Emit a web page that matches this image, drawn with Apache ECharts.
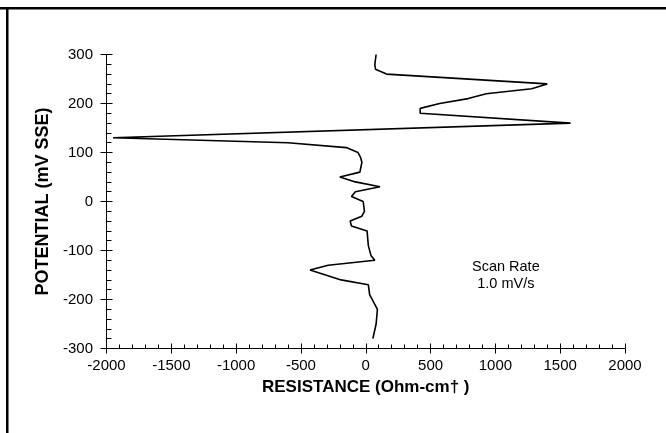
<!DOCTYPE html>
<html>
<head>
<meta charset="utf-8">
<script src="https://cdn.jsdelivr.net/npm/echarts@6/dist/echarts.min.js"></script>
<style>
html,body{margin:0;padding:0;background:#fff;}
#c{width:666px;height:433px;}
</style>
</head>
<body>
<div id="c"></div>
<script>
// Resistance (Ohm-cm) vs potential (mV SSE), in scan order
const resistance = [80, 70, 75, 160, 1400, 1280, 930, 790, 570, 420, 420, 1580, -1950, -600, -150, -60, -40, -30, -45, -200, -80, 110, -80, -110, -20, -10, -30, -120, -110, 10, 20, 40, 70, -290, -430, -190, 20, 30, 90, 80, 55];
const potential  = [300, 280, 270, 260, 240, 230, 220, 210, 200, 190, 180, 160, 130, 120, 110, 100, 90, 80, 60, 50, 40, 30, 20, 10, 0, -20, -30, -40, -50, -60, -90, -110, -120, -130, -140, -160, -170, -190, -220, -250, -280];
const xTicks = [-2000, 2000, 500];
const yTicks = [-300, 300, 100];
const xName = 'RESISTANCE (Ohm-cm\u2020 )';
const yName = 'POTENTIAL (mV SSE)';
const note = 'Scan Rate\n1.0 mV/s';

const points = resistance.map((r, i) => [r, potential[i]]);
const font = '"Liberation Sans", Arial, Helvetica, sans-serif';
const chart = echarts.init(document.getElementById('c'));

const grid = {left: 106.5, right: 41, top: 54.5, bottom: 84.5};
const baseX = {type: 'value', min: xTicks[0], max: xTicks[1], interval: xTicks[2], splitLine: {show: false}};
const baseY = {type: 'value', min: yTicks[0], max: yTicks[1], interval: yTicks[2], splitLine: {show: false}};
const plain = v => String(v);

chart.setOption({
  animation: false,
  backgroundColor: '#fff',
  grid: grid,
  xAxis: [
    Object.assign({}, baseX, {
      position: 'bottom',
      axisLine: {show: true, onZero: false, lineStyle: {color: '#000', width: 1}},
      axisTick: {show: true, inside: true, length: 5, lineStyle: {color: '#000', width: 1}},
      minorTick: {show: true, splitNumber: 5, length: 4, lineStyle: {color: '#000', width: 1}},
      axisLabel: {color: '#000', fontSize: 15, fontFamily: font, margin: 10, formatter: plain},
      name: xName, nameLocation: 'middle', nameGap: 27,
      nameTextStyle: {color: '#000', fontSize: 17, fontWeight: 'bold', fontFamily: font}
    }),
    Object.assign({}, baseX, {
      position: 'bottom',
      axisLine: {show: false, onZero: false},
      axisTick: {show: true, inside: false, length: 5, lineStyle: {color: '#000', width: 1}},
      axisLabel: {show: false}
    })
  ],
  yAxis: [
    Object.assign({}, baseY, {
      position: 'left',
      axisLine: {show: true, onZero: false, lineStyle: {color: '#000', width: 1}},
      axisTick: {show: true, inside: true, length: 6, lineStyle: {color: '#000', width: 1}},
      minorTick: {show: true, splitNumber: 5, length: 5, lineStyle: {color: '#000', width: 1}},
      axisLabel: {color: '#000', fontSize: 15, fontFamily: font, margin: 13.5, formatter: plain},
      name: yName, nameLocation: 'middle', nameGap: 54,
      nameTextStyle: {color: '#000', fontSize: 18, fontWeight: 'bold', fontFamily: font}
    }),
    Object.assign({}, baseY, {
      position: 'left',
      axisLine: {show: false, onZero: false},
      axisTick: {show: true, inside: false, length: 6, lineStyle: {color: '#000', width: 1}},
      axisLabel: {show: false}
    })
  ],
  series: [{
    type: 'line',
    xAxisIndex: 0,
    yAxisIndex: 0,
    data: points,
    showSymbol: false,
    symbol: 'none',
    lineStyle: {color: '#000', width: 1.6},
    silent: true
  }],
  graphic: [
    {type: 'rect', shape: {x: 0, y: 7, width: 666, height: 2.5}, style: {fill: '#000'}},
    {type: 'rect', shape: {x: 6, y: 7, width: 2.5, height: 426}, style: {fill: '#000'}},
    {type: 'text', left: 472, top: 258, style: {text: note, fill: '#000', font: '14.5px ' + font, textAlign: 'center', lineHeight: 17, x: 38}}
  ]
});
</script>
</body>
</html>
